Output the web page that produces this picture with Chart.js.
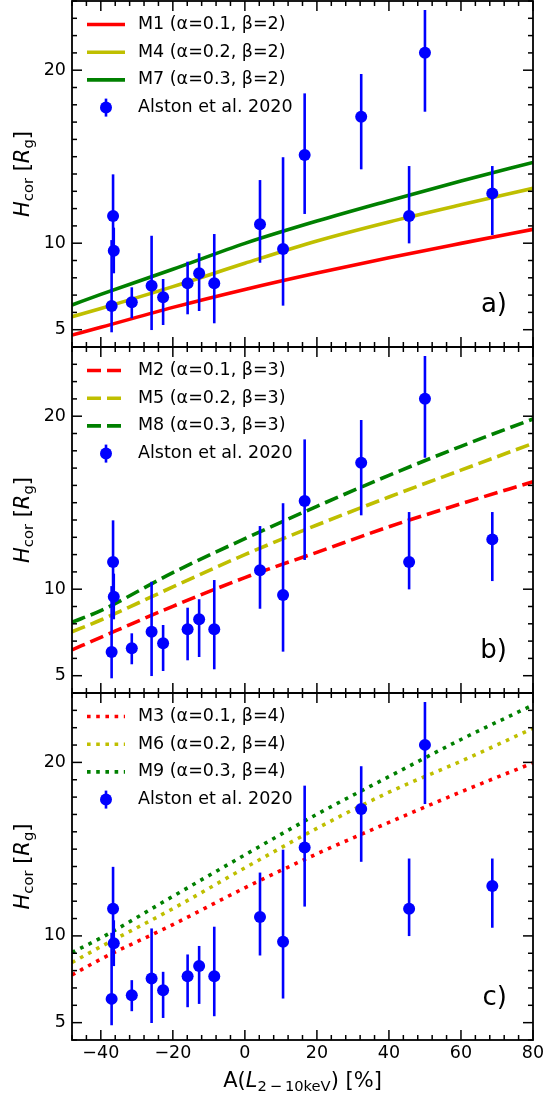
<!DOCTYPE html>
<html>
<head>
<meta charset="utf-8">
<script src="https://cdn.jsdelivr.net/npm/chart.js@4.4.1/dist/chart.umd.min.js"></script>
<style>
  body { margin: 0; background: #fff; }
  #wrap { position: relative; width: 546px; height: 1099px; }
  canvas { position: absolute; left: 0; }
</style>
</head>
<body>
<div id="wrap">
  <canvas id="pa"></canvas>
  <canvas id="pb"></canvas>
  <canvas id="pc"></canvas>
</div>
<script>
// Alston et al. 2020 points: x, value, lower and upper end of the error bar
const alstonX  = [-37.0, -36.6, -36.4, -31.4, -25.9, -22.7, -15.9, -12.7, -8.5, 4.2, 10.6, 16.6, 32.3, 45.6, 50.0, 68.7];
const alstonY  = [6.37, 11.57, 9.57, 6.58, 7.54, 6.87, 7.68, 8.26, 7.68, 11.09, 9.66, 15.1, 17.31, 11.57, 21.01, 12.88];
const alstonLo = [4.85, 9.2, 8.26, 5.66, 4.98, 5.27, 5.89, 6.08, 5.37, 8.87, 6.39, 11.69, 14.27, 9.99, 17.6, 10.47];
const alstonHi = [10.18, 13.98, 10.9, 7.45, 10.43, 7.93, 8.93, 9.42, 10.53, 13.65, 14.97, 18.66, 19.78, 14.46, 23.48, 14.46];

// model curves, read at these x positions
const modelX = [-48, -40, -20, 0, 20, 40, 60, 80];
const m1 = [4.69, 5.14, 6.29, 7.33, 8.28, 9.16, 9.99, 10.8];
const m4 = [5.75, 6.23, 7.49, 8.84, 10.13, 11.23, 12.22, 13.17];
const m7 = [6.43, 7.04, 8.49, 9.99, 11.28, 12.46, 13.6, 14.67];
const m2 = [6.49, 7.22, 9.01, 10.67, 12.13, 13.61, 14.94, 16.21];
const m5 = [7.54, 8.22, 10.13, 12.0, 13.71, 15.33, 16.88, 18.43];
const m8 = [8.09, 8.76, 10.96, 12.92, 14.79, 16.58, 18.26, 19.84];
const m3 = [7.75, 8.66, 10.65, 12.77, 14.73, 16.54, 18.3, 19.97];
const m6 = [8.47, 9.38, 11.57, 13.92, 16.2, 18.28, 20.07, 21.96];
const m9 = [9.05, 9.88, 12.28, 14.67, 17.01, 19.18, 21.32, 23.31];

const labelsA = ['M1 (α=0.1, β=2)', 'M4 (α=0.2, β=2)', 'M7 (α=0.3, β=2)'];
const labelsB = ['M2 (α=0.1, β=3)', 'M5 (α=0.2, β=3)', 'M8 (α=0.3, β=3)'];
const labelsC = ['M3 (α=0.1, β=4)', 'M6 (α=0.2, β=4)', 'M9 (α=0.3, β=4)'];
const dataLabel = 'Alston et al. 2020';

const xTicks = [-40, -20, 0, 20, 40, 60, 80];
const yTicks = [5, 10, 20];
const xRange = [-48, 80];
const yRange = [4, 24];

const colors = ['#ff0000', '#bfbf00', '#008000'];
const FONT = '"DejaVu Sans"';

Chart.defaults.font.family = FONT;
Chart.defaults.font.size = 17.5;
Chart.defaults.color = '#000';

const fmt = v => (v < 0 ? '\u2212' + Math.abs(v) : String(v));

// draws text made of parts: [text, style], style 'i' = italic, 's' = subscript
function richText(ctx, parts, x, y, size) {
  const fontOf = p => (p[1] === 'i' ? 'italic ' : '') + (p[1] === 's' ? size * 0.7 : size) + 'px ' + FONT;
  let w = 0;
  parts.forEach(p => { ctx.font = fontOf(p); w += ctx.measureText(p[0]).width; });
  let cx = x - w / 2;
  ctx.textAlign = 'left';
  ctx.textBaseline = 'alphabetic';
  parts.forEach(p => {
    ctx.font = fontOf(p);
    ctx.fillText(p[0], cx, y + (p[1] === 's' ? size * 0.2 : 0));
    cx += ctx.measureText(p[0]).width;
  });
}

const decor = {
  id: 'decor',
  beforeDatasetDraw(chart, args) {
    const ds = chart.data.datasets[args.index];
    if (!ds.errLo) return;
    const ctx = chart.ctx, xs = chart.scales.x, ys = chart.scales.y;
    ctx.save();
    ctx.strokeStyle = ds.backgroundColor;
    ctx.lineWidth = 2.6;
    ds.data.forEach((p, i) => {
      const px = xs.getPixelForValue(p.x);
      ctx.beginPath();
      ctx.moveTo(px, ys.getPixelForValue(ds.errLo[i]));
      ctx.lineTo(px, ys.getPixelForValue(ds.errHi[i]));
      ctx.stroke();
    });
    ctx.restore();
  },
  afterDraw(chart) {
    const ctx = chart.ctx, a = chart.chartArea, xs = chart.scales.x, ys = chart.scales.y;
    const o = chart.options.plugins.decor;
    ctx.save();
    // frame
    ctx.strokeStyle = '#000';
    ctx.lineWidth = 1.8;
    ctx.strokeRect(a.left, a.top, a.right - a.left, a.bottom - a.top);
    // inward ticks on all four sides
    ctx.lineWidth = 1.5;
    const tick = (x1, y1, x2, y2) => { ctx.beginPath(); ctx.moveTo(x1, y1); ctx.lineTo(x2, y2); ctx.stroke(); };
    for (let v = xRange[0]; v <= xRange[1]; v += 4) {
      const len = xTicks.includes(v) ? 10 : 5, px = xs.getPixelForValue(v);
      tick(px, a.bottom, px, a.bottom - len);
      tick(px, a.top, px, a.top + len);
    }
    for (let v = yRange[0]; v <= yRange[1]; v += 1) {
      const len = yTicks.includes(v) ? 10 : 5, py = ys.getPixelForValue(v);
      tick(a.left, py, a.left + len, py);
      tick(a.right, py, a.right - len, py);
    }
    // legend
    ctx.font = '17.5px ' + FONT;
    chart.data.datasets.forEach((ds, i) => {
      const ry = a.top + 23.5 + i * 27.7;
      if (ds.errLo) {
        ctx.strokeStyle = ds.backgroundColor;
        ctx.lineWidth = 2.6;
        tick(106, ry - 9, 106, ry + 9);
        ctx.fillStyle = ds.backgroundColor;
        ctx.beginPath(); ctx.arc(106, ry, 6, 0, Math.PI * 2); ctx.fill();
      } else {
        ctx.strokeStyle = ds.borderColor;
        ctx.lineWidth = ds.borderWidth;
        ctx.setLineDash(ds.borderDash || []);
        tick(87, ry, 125, ry);
        ctx.setLineDash([]);
      }
      ctx.fillStyle = '#000';
      ctx.textAlign = 'left';
      ctx.textBaseline = 'middle';
      ctx.fillText(ds.label, 138, ry);
    });
    // panel tag
    ctx.font = '26px ' + FONT;
    ctx.textAlign = 'right';
    ctx.textBaseline = 'alphabetic';
    ctx.fillText(o.tag, 507, a.bottom - 35);
    // y title
    ctx.save();
    ctx.translate(29, (a.top + a.bottom) / 2);
    ctx.rotate(-Math.PI / 2);
    richText(ctx, [['H', 'i'], ['cor', 's'], [' [', ''], ['R', 'i'], ['g', 's'], [']', '']], 0, 0, 21);
    ctx.restore();
    // x title
    if (o.xTitle) {
      richText(ctx, [['A(', ''], ['L', 'i'], ['2\u2009\u2212\u200910keV', 's'], [') [%]', '']],
        (a.left + a.right) / 2, a.bottom + 46.5, 21);
    }
    ctx.restore();
  }
};

function makePanel(id, top, height, padTop, padBottom, series, labels, dash, tag, bottomAxis) {
  const cv = document.getElementById(id);
  cv.width = 546;
  cv.height = height;
  cv.style.top = top + 'px';
  const datasets = series.map((s, i) => ({
    label: labels[i],
    data: modelX.map((x, k) => ({ x: x, y: s[k] })),
    showLine: true,
    borderColor: colors[i],
    borderWidth: 3.6,
    borderDash: dash,
    borderCapStyle: 'butt',
    pointRadius: 0,
    cubicInterpolationMode: 'monotone',
    order: 1
  }));
  datasets.push({
    label: dataLabel,
    data: alstonX.map((x, k) => ({ x: x, y: alstonY[k] })),
    errLo: alstonLo,
    errHi: alstonHi,
    backgroundColor: '#0000ff',
    borderColor: '#0000ff',
    pointRadius: 6,
    pointBorderWidth: 0,
    showLine: false,
    order: 0
  });
  return new Chart(cv, {
    type: 'scatter',
    data: { datasets: datasets },
    options: {
      responsive: false,
      animation: false,
      layout: { autoPadding: false, padding: { top: padTop, bottom: padBottom, left: 0, right: 13 } },
      plugins: { legend: { display: false }, tooltip: { enabled: false }, decor: { tag: tag, xTitle: bottomAxis } },
      scales: {
        x: {
          type: 'linear',
          min: xRange[0], max: xRange[1],
          grid: { display: false, drawTicks: false },
          border: { display: false },
          afterBuildTicks: s => { s.ticks = xTicks.map(v => ({ value: v })); },
          afterFit: s => { s.height = bottomAxis ? 59 : 0; s.paddingLeft = 0; s.paddingRight = 0; },
          ticks: { display: bottomAxis, padding: 3, maxRotation: 0, autoSkip: false, callback: v => fmt(v) }
        },
        y: {
          type: 'linear',
          min: yRange[0], max: yRange[1],
          grid: { display: false, drawTicks: false },
          border: { display: false },
          afterBuildTicks: s => { s.ticks = yTicks.map(v => ({ value: v })); },
          afterFit: s => { s.width = 72; s.paddingTop = 0; s.paddingBottom = 0; },
          ticks: { padding: 6, autoSkip: false, callback: v => fmt(v) }
        }
      }
    },
    plugins: [decor]
  });
}

makePanel('pa', 0, 350, 1, 3, [m1, m4, m7], labelsA, [], 'a)', false);
makePanel('pb', 342, 354, 5, 3, [m2, m5, m8], labelsB, [14, 6], 'b)', false);
makePanel('pc', 688, 411, 5, 0, [m3, m6, m9], labelsC, [3.6, 5.6], 'c)', true);
</script>
</body>
</html>
